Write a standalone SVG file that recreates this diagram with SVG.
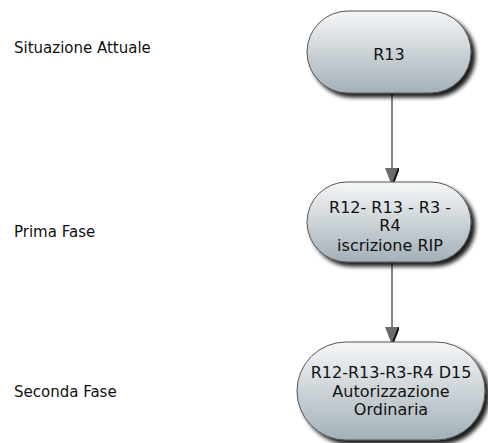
<svg xmlns="http://www.w3.org/2000/svg" width="488" height="443" viewBox="0 0 488 443">
<defs>
<linearGradient id="g" x1="0" y1="0" x2="0" y2="1">
<stop offset="0" stop-color="#f6f7f8"/>
<stop offset="1" stop-color="#a3b0b8"/>
</linearGradient>
<filter id="sh" x="-20%" y="-20%" width="150%" height="160%">
<feGaussianBlur in="SourceAlpha" stdDeviation="2"/>
<feOffset dx="4" dy="4" result="b"/>
<feComponentTransfer><feFuncA type="linear" slope="0.9"/></feComponentTransfer>
<feMerge><feMergeNode/><feMergeNode in="SourceGraphic"/></feMerge>
</filter>
<marker id="ah" viewBox="0 0 18 14" refX="18" refY="7" markerWidth="18" markerHeight="14" markerUnits="userSpaceOnUse" orient="auto">
<path d="M0,0 L18,7 L0,14 Z" fill="#6b6b6b"/>
<path d="M0,0 L18,7" stroke="#111" stroke-width="2"/>
</marker>
</defs>
<style>
.lbl{font-family:"DejaVu Sans",Verdana,sans-serif;font-size:15px;fill:#111}
.nt{font-family:"DejaVu Sans",Verdana,sans-serif;font-size:16px;fill:#111;text-anchor:middle}
.nd{fill:url(#g);stroke:#555;stroke-width:1;filter:url(#sh)}
.cn{stroke:#858585;stroke-width:2;fill:none;marker-end:url(#ah)}
</style>
<rect width="488" height="443" fill="#fff"/>
<g id="labels">
<text class="lbl" x="14" y="53">Situazione Attuale</text>
<text class="lbl" x="14" y="237">Prima Fase</text>
<text class="lbl" x="14" y="397">Seconda Fase</text>
</g>
<g id="connectors">
<line class="cn" x1="392" y1="94" x2="392" y2="186"/>
<line class="cn" x1="392" y1="262" x2="392" y2="345"/>
</g>
<g id="node1">
<rect class="nd" x="307" y="11" width="164" height="82" rx="41" ry="41"/>
<text class="nt" x="389" y="60">R13</text>
</g>
<g id="node2">
<rect class="nd" x="307" y="182" width="164" height="80" rx="40" ry="40"/>
<text class="nt" x="390" y="213">R12- R13 - R3 -</text>
<text class="nt" x="390" y="231">R4</text>
<text class="nt" x="390" y="251">iscrizione RIP</text>
</g>
<g id="node3">
<rect class="nd" x="297" y="342" width="188" height="98" rx="49" ry="49"/>
<text class="nt" x="391" y="378">R12-R13-R3-R4 D15</text>
<text class="nt" x="391" y="397">Autorizzazione</text>
<text class="nt" x="391" y="415">Ordinaria</text>
</g>
</svg>
